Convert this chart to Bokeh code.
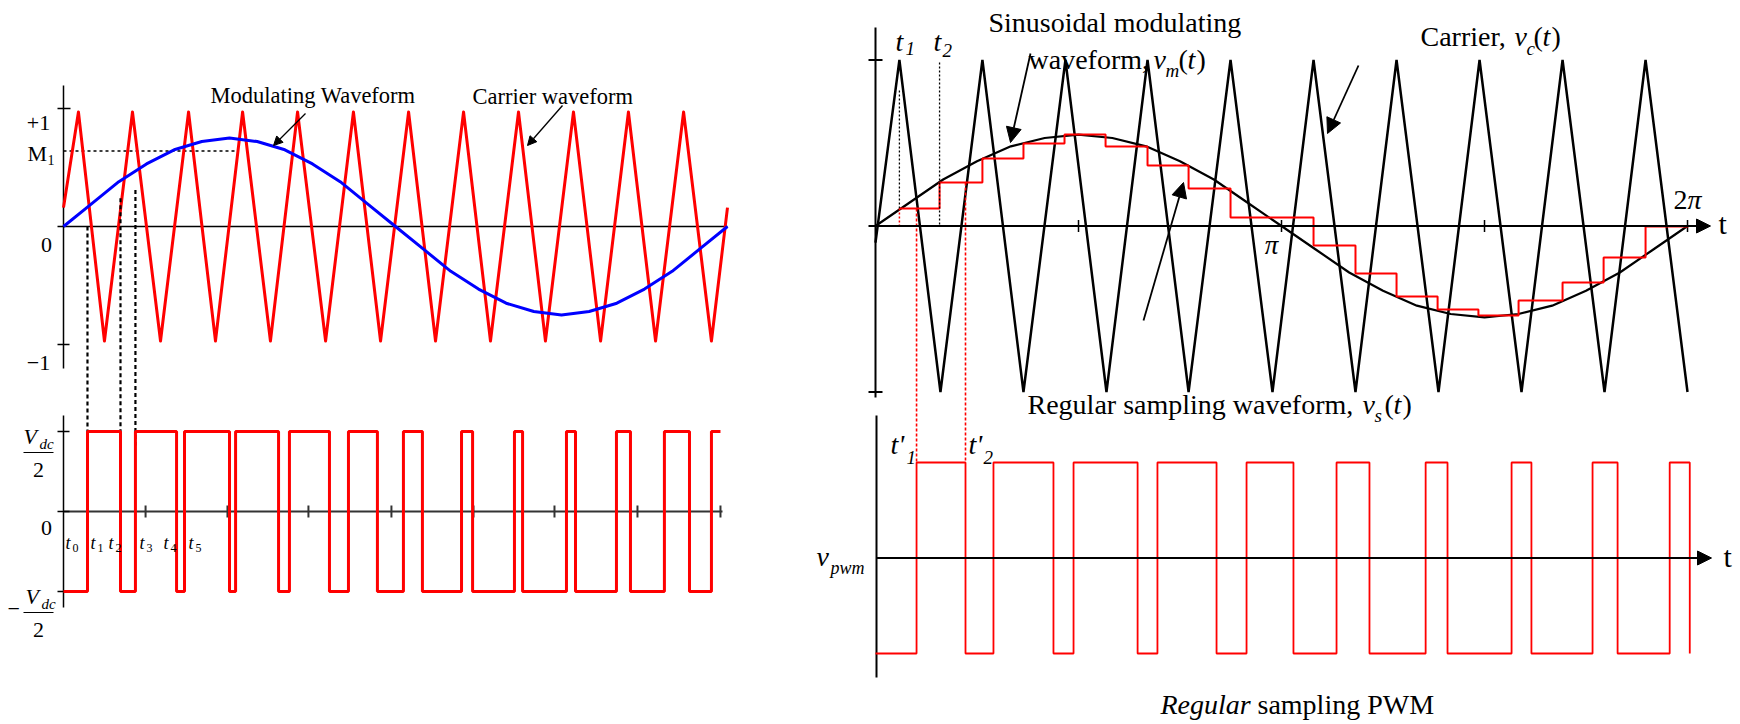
from bokeh.plotting import figure
from bokeh.models import Range1d, Arrow, NormalHead
from bokeh.core.properties import value
from bokeh.embed import file_html
from bokeh.resources import INLINE

# ======================= DATA =======================
# ---- Left chart (angle of the modulating wave, degrees) ----
left_mod_deg = [0, 15, 30, 45, 60, 75, 90, 105, 120, 135, 150, 165, 180,
                195, 210, 225, 240, 255, 270, 285, 300, 315, 330, 345, 360]
left_mod_val = [0.00, 0.19, 0.38, 0.53, 0.65, 0.72, 0.75, 0.72, 0.65, 0.53, 0.38, 0.19, 0.00,
                -0.19, -0.38, -0.53, -0.65, -0.72, -0.75, -0.72, -0.65, -0.53, -0.38, -0.19, 0.00]
left_car_deg = [0, 8.1, 22.2, 37.4, 52.6, 67.8, 82.4, 97.1, 112.2, 126.9, 142.1, 157.2, 171.9,
                187.1, 201.7, 216.9, 231.5, 246.7, 261.3, 276.5, 291.2, 306.3, 321.0, 336.2, 351.3, 360]
left_car_val = [0.16, 0.97, -0.97, 0.97, -0.97, 0.97, -0.97, 0.97, -0.97, 0.97, -0.97, 0.97, -0.97,
                0.97, -0.97, 0.97, -0.97, 0.97, -0.97, 0.97, -0.97, 0.97, -0.97, 0.97, -0.97, 0.16]
left_m1 = 0.64
left_pwm_edges = [0, 13.0, 30.9, 39.0, 61.3, 65.6, 90.0, 93.3, 116.6, 122.5, 144.2, 154.5, 170.2,
                  184.3, 194.6, 215.8, 221.8, 244.5, 248.9, 272.7, 277.6, 299.8, 307.4, 325.8,
                  339.4, 351.3, 356.2]
left_pwm_levels = [-1, 1, -1, 1, -1, 1, -1, 1, -1, 1, -1, 1, -1,
                   1, -1, 1, -1, 1, -1, 1, -1, 1, -1, 1, -1, 1]
left_axis_ticks = [44.5, 88.9, 132.8, 177.8, 222.3, 266.2, 311.2, 356.2]
left_dash_top = [0.00, 0.24, 0.31]          # where the three projection lines start
left_t_labels = ["0", "1", "2", "3", "4", "5"]

# ---- Right chart (angle, degrees; 360 = 2*pi) ----
right_mod_deg = left_mod_deg
right_mod_val = [0.00, 0.14, 0.28, 0.39, 0.48, 0.53, 0.55, 0.53, 0.48, 0.39, 0.28, 0.14, 0.00,
                 -0.14, -0.28, -0.39, -0.48, -0.53, -0.55, -0.53, -0.48, -0.39, -0.28, -0.14, 0.00]
right_car_deg = [0, 10.6, 28.8, 47.4, 65.6, 84.2, 102.4, 120.6, 138.8, 157.4, 176.0,
                 194.2, 212.8, 231.0, 249.6, 267.8, 286.4, 304.6, 323.2, 341.4, 360.0]
right_car_val = [-0.10, 1, -1, 1, -1, 1, -1, 1, -1, 1, -1,
                 1, -1, 1, -1, 1, -1, 1, -1, 1, -1]
right_samp_edges = [10.6, 28.4, 47.4, 65.6, 83.8, 102.0, 120.6, 138.8, 157.4, 194.2,
                    212.8, 231.0, 249.2, 267.3, 285.1, 304.6, 322.8, 341.4, 360.4]
right_samp_levels = [0.105, 0.262, 0.407, 0.497, 0.551, 0.479, 0.364, 0.226, 0.051,
                     -0.117, -0.286, -0.425, -0.503, -0.539, -0.449, -0.340, -0.190, -0.003]
right_pwm_edges = [0, 18.2, 39.9, 52.3, 78.9, 87.8, 116.2, 125.0, 151.2, 164.5, 185.3,
                   204.4, 219.0, 243.9, 253.6, 282.0, 290.8, 317.9, 329.0, 352.1, 361.0]
right_pwm_levels = [-1, 1, -1, 1, -1, 1, -1, 1, -1, 1,
                    -1, 1, -1, 1, -1, 1, -1, 1, -1, 1]
right_axis_ticks = [90, 180, 270, 360]

# ======================= LAYOUT =======================
W, H = 1740, 724
PX0, PY0 = 0, 0
LX = (63.0, 1.8444)      # page px of 0 deg, px per degree
RX = (875.0, 2.2556)
LT_Y = (226.0, 118.0)    # page px of value 0, px per unit
LB_Y = (511.0, 80.0)
RT_Y = (225.5, 166.0)
RB_Y = (557.5, 95.5)
TEXT_SHIFT = 0.32        # measured baseline offset of the text renderer, in em


def xr(a, s):
    return Range1d(start=(PX0 - a) / s, end=(PX0 + W - a) / s)


def yr(b, t):
    return Range1d(start=(b - (PY0 + H)) / t, end=(b - PY0) / t)


def ypx(panel, px):
    return (panel[0] - px) / panel[1]


def xpx(panel, px):
    return (px - panel[0]) / panel[1]


p = figure(width=W, height=H, x_range=Range1d(PX0, PX0 + W), y_range=Range1d(PY0 + H, PY0),
           output_backend="svg", toolbar_location=None, min_border=0,
           x_axis_location=None, y_axis_location=None)
p.outline_line_color = None
p.grid.visible = False
p.background_fill_color = "white"
p.border_fill_color = "white"
p.extra_x_ranges = {"L": xr(*LX), "R": xr(*RX)}
p.extra_y_ranges = {"LT": yr(*LT_Y), "LB": yr(*LB_Y), "RT": yr(*RT_Y), "RB": yr(*RB_Y)}

FONT = value("Liberation Serif")


def seg(xn, yn, x0, y0, x1, y1, color="black", width=1.5, dash="solid"):
    kw = {}
    if xn:
        kw["x_range_name"] = xn
    if yn:
        kw["y_range_name"] = yn
    p.segment(x0=x0 if isinstance(x0, list) else [x0], y0=y0 if isinstance(y0, list) else [y0],
              x1=x1 if isinstance(x1, list) else [x1], y1=y1 if isinstance(y1, list) else [y1],
              line_color=color, line_width=width, line_dash=dash, **kw)


def steps(edges, levels):
    xs, ys = [], []
    for i, lv in enumerate(levels):
        xs += [edges[i], edges[i + 1]]
        ys += [lv, lv]
    return xs, ys


def T(x, y, s, size=22, italic=False, align="left"):
    p.text(x=[x], y=[y - TEXT_SHIFT * size], text=[s], text_font=FONT, text_font_size=f"{size}px",
           text_font_style="italic" if italic else "normal", text_align=align,
           text_baseline="alphabetic", text_color="black")


def arrow(xn, yn, x0, y0, x1, y1, size=10, width=1.5):
    p.add_layout(Arrow(end=NormalHead(size=size, fill_color="black", line_color="black", line_width=1),
                       x_start=x0, y_start=y0, x_end=x1, y_end=y1, line_color="black",
                       line_width=width, x_range_name=xn, y_range_name=yn))


# ======================= LEFT TOP =======================
seg("L", "LT", 0, ypx(LT_Y, 85), 0, ypx(LT_Y, 368), width=1.5)
seg("L", "LT", 0, 0, 360, 0, width=1.5)
for v, x0, x1 in [(1, 57, 70), (0, 57, 63), (-1, 57, 69)]:
    seg("L", "LT", xpx(LX, x0), v, xpx(LX, x1), v, width=1.5)
seg("L", "LT", 0, left_m1, xpx(LX, 237), left_m1, width=1.3, dash="3 3")
p.line(left_car_deg, left_car_val, x_range_name="L", y_range_name="LT",
       line_color="#FF0000", line_width=3, line_join="round")
p.line(left_mod_deg, left_mod_val, x_range_name="L", y_range_name="LT",
       line_color="#0000FF", line_width=3, line_join="round")
# projection lines down to the PWM
for x, top in zip(left_pwm_edges[1:4], left_dash_top):
    seg("L", "LT", x, top, x, ypx(LT_Y, 445), width=2.2, dash="4 3")
arrow("L", "LT", xpx(LX, 305), ypx(LT_Y, 113), xpx(LX, 273), ypx(LT_Y, 145), size=9, width=1.3)
arrow("L", "LT", xpx(LX, 562), ypx(LT_Y, 105), xpx(LX, 527), ypx(LT_Y, 145), size=9, width=1.3)

T(38, 130, "+1", 22, align="center")
T(27, 160, "M", 22)
T(47, 164, "1", 14)
T(46, 252, "0", 22, align="center")
T(38, 370, "\u22121", 22, align="center")
T(210, 102, "Modulating Waveform", 22.5)
T(472, 103, "Carrier waveform", 22.5)

# ======================= LEFT BOTTOM =======================
seg("L", "LB", 0, ypx(LB_Y, 415), 0, ypx(LB_Y, 607), width=1.5)
seg("L", "LB", 0, 0, xpx(LX, 722), 0, color="#333333", width=2)
for v in [1, 0, -1]:
    seg("L", "LB", xpx(LX, 57), v, xpx(LX, 69), v, width=1.5)
seg("L", "LB", left_axis_ticks, [-0.075] * len(left_axis_ticks), left_axis_ticks,
    [0.075] * len(left_axis_ticks), color="#333333", width=2)
xs, ys = steps(left_pwm_edges, left_pwm_levels)
p.line(xs, ys, x_range_name="L", y_range_name="LB", line_color="#FF0000", line_width=3)

T(23, 443, "V", 22, italic=True)
T(39, 448, "dc", 15, italic=True)
seg(None, None, 23, 452, 53, 452, width=1.2)
T(38, 477, "2", 22, align="center")
T(46, 535, "0", 22, align="center")
T(7, 616, "\u2212", 22)
T(25, 603, "V", 22, italic=True)
T(41, 608, "dc", 15, italic=True)
seg(None, None, 23, 612, 53, 612, width=1.2)
T(38, 637, "2", 22, align="center")
for x, d in zip([65, 90, 108, 139, 163, 188], left_t_labels):
    T(x, 548, "t", 18, italic=True)
    T(x + 7, 551, d, 12)

# ======================= RIGHT TOP =======================
seg("R", "RT", 0, ypx(RT_Y, 27), 0, ypx(RT_Y, 397), width=2)
for v in [1, -1]:
    seg("R", "RT", xpx(RX, 868), v, xpx(RX, 882), v, width=2)
arrow("R", "RT", xpx(RX, 868), 0, xpx(RX, 1710), 0, size=14, width=2)
seg("R", "RT", right_axis_ticks, [-0.036] * 4, right_axis_ticks, [0.036] * 4, width=1.5)
p.line(right_car_deg, right_car_val, x_range_name="R", y_range_name="RT",
       line_color="black", line_width=2.5)
p.line(right_mod_deg, right_mod_val, x_range_name="R", y_range_name="RT",
       line_color="black", line_width=2.2)
xs, ys = steps(right_samp_edges, right_samp_levels)
p.line(xs, ys, x_range_name="R", y_range_name="RT", line_color="#FF0000", line_width=2)

t1, t2 = right_samp_edges[0], right_samp_edges[1]
tp1, tp2 = right_pwm_edges[1], right_pwm_edges[2]
seg("R", "RT", t1, ypx(RT_Y, 90), t1, right_samp_levels[0], width=1.3, dash="2 2")
seg("R", "RT", t1, right_samp_levels[0], t1, 0, color="#FF0000", width=1.5, dash="2 2")
seg("R", "RT", t2, ypx(RT_Y, 62), t2, 0, width=1.3, dash="2 2")
seg("R", "RT", tp1, right_samp_levels[0], tp1, ypx(RT_Y, 462), color="#FF0000", width=1.6, dash="3 2")
seg("R", "RT", tp2, right_samp_levels[1], tp2, ypx(RT_Y, 462), color="#FF0000", width=1.6, dash="3 2")

arrow("R", "RT", xpx(RX, 1030), ypx(RT_Y, 53), xpx(RX, 1010), ypx(RT_Y, 142), size=15, width=1.8)
arrow("R", "RT", xpx(RX, 1358), ypx(RT_Y, 65), xpx(RX, 1327), ypx(RT_Y, 133), size=15, width=1.8)
arrow("R", "RT", xpx(RX, 1143), ypx(RT_Y, 320), xpx(RX, 1183), ypx(RT_Y, 182), size=15, width=1.8)

T(895, 50, "t", 28, italic=True)
T(905, 54, "1", 19, italic=True)
T(933, 50, "t", 28, italic=True)
T(942, 56, "2", 19, italic=True)
T(988, 31, "Sinusoidal modulating", 28)
T(1028, 68, "waveform,", 28)
T(1153, 68, "v", 28, italic=True)
T(1165, 76, "m", 19, italic=True)
T(1178, 68, "(", 28)
T(1187, 68, "t", 28, italic=True)
T(1196, 68, ")", 28)
T(1420, 45, "Carrier,", 28)
T(1514, 45, "v", 28, italic=True)
T(1526, 54, "c", 19, italic=True)
T(1533, 45, "(", 28)
T(1542, 45, "t", 28, italic=True)
T(1551, 45, ")", 28)
T(1271, 253, "\u03c0", 27, italic=True, align="center")
T(1673, 208, "2", 28)
T(1687, 208, "\u03c0", 28, italic=True)
T(1718, 233, "t", 30)
T(1027, 413, "Regular sampling waveform,", 28)
T(1362, 413, "v", 28, italic=True)
T(1374, 421, "s", 19, italic=True)
T(1384, 413, "(", 28)
T(1393, 413, "t", 28, italic=True)
T(1402, 413, ")", 28)

# ======================= RIGHT BOTTOM =======================
seg("R", "RB", xpx(RX, 876), ypx(RB_Y, 415), xpx(RX, 876), ypx(RB_Y, 677), width=2)
arrow("R", "RB", xpx(RX, 876), 0, xpx(RX, 1711), 0, size=14, width=2)
xs, ys = steps(right_pwm_edges, right_pwm_levels)
xs.append(right_pwm_edges[-1])
ys.append(-1)
p.line(xs, ys, x_range_name="R", y_range_name="RB", line_color="#FF0000", line_width=1.8)

T(890, 453, "t'", 28, italic=True)
T(906, 463, "1", 19, italic=True)
T(968, 453, "t'", 28, italic=True)
T(983, 463, "2", 19, italic=True)
T(816, 565, "v", 28, italic=True)
T(830, 573, "pwm", 18, italic=True)
T(1723, 566, "t", 30)
T(1160, 713, "Regular", 28, italic=True)
T(1257, 713, "sampling PWM", 28)

open("out.html", "w").write(file_html(p, INLINE))
